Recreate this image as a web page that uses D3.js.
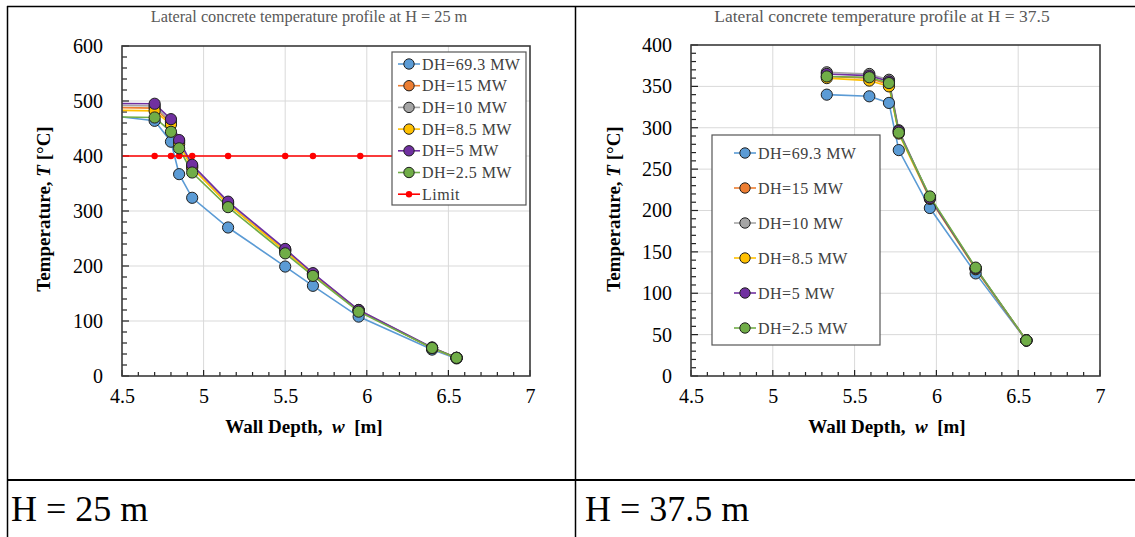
<!DOCTYPE html>
<html><head><meta charset="utf-8">
<script src="https://cdn.jsdelivr.net/npm/d3@7"></script>
<style>
body{margin:0;background:#fff}
svg{display:block}
text{font-family:"Liberation Serif","Times New Roman",serif}
</style>
</head><body>
<svg id="c" width="1135" height="537"></svg>
<script>
// ---------- data ----------
const seriesNames  = ["DH=69.3 MW","DH=15 MW","DH=10 MW","DH=8.5 MW","DH=5 MW","DH=2.5 MW"];
const seriesColors = ["#5B9BD5","#ED7D31","#A5A5A5","#FFC000","#7030A0","#70AD47"];

// H = 25 m
const depth25   = [4.3, 4.7, 4.8, 4.85, 4.93, 5.15, 5.5, 5.67, 5.95, 6.4, 6.55];
const t25_693   = [478, 464, 426, 367, 324, 270, 199, 164, 108, 48, 32];
const t25_15    = [489, 487, 460, 424, 380, 313, 228, 185, 119, 51, 33];
const t25_10    = [493, 491, 463, 427, 382, 315, 230, 186, 120, 51, 33];
const t25_85    = [484, 482, 457, 421, 378, 312, 227, 184, 119, 51, 33];
const t25_5     = [496, 495, 467, 429, 384, 317, 231, 187, 120, 52, 33];
const t25_25    = [472, 470, 444, 414, 370, 307, 223, 182, 117, 51, 33];
const limitDepth = [4.3, 4.7, 4.8, 4.85, 4.93, 5.15, 5.5, 5.67, 5.96, 6.4, 6.55];
const limitTemp  = [400, 400, 400, 400, 400, 400, 400, 400, 400, 400, 400];

// H = 37.5 m
const depth375  = [5.33, 5.59, 5.71, 5.77, 5.96, 6.24, 6.55];
const t375_693  = [340, 338, 330, 273, 203, 124, 43];
const t375_15   = [362, 360, 352, 295, 216, 130, 43];
const t375_10   = [367, 365, 358, 297, 216, 130, 43];
const t375_85   = [360, 357, 350, 293, 214, 129, 43];
const t375_5    = [365, 363, 356, 296, 215, 130, 43];
const t375_25   = [362, 361, 354, 294, 217, 131, 43];

const xTicks    = [4.5, 5, 5.5, 6, 6.5, 7];
const yTicks25  = [0, 100, 200, 300, 400, 500, 600];
const yTicks375 = [0, 50, 100, 150, 200, 250, 300, 350, 400];

const title25  = "Lateral concrete temperature profile at H = 25 m";
const title375 = "Lateral concrete temperature profile at H = 37.5";
const caption25  = "H = 25 m";
const caption375 = "H = 37.5 m";

// ---------- drawing ----------
const svg = d3.select("#c");
const NB = "\u00a0";

function drawChart(cfg){
  const g = svg.append("g");
  const x = d3.scaleLinear().domain([4.5, 7]).range([cfg.x0, cfg.x1]);
  const y = d3.scaleLinear().domain([0, cfg.yMax]).range([cfg.y1, cfg.y0]);
  const clipId = "clip" + cfg.id;
  svg.append("clipPath").attr("id", clipId).append("rect")
    .attr("x", cfg.x0).attr("y", cfg.y0).attr("width", cfg.x1 - cfg.x0).attr("height", cfg.y1 - cfg.y0);

  // gridlines
  g.selectAll(".gx").data(xTicks.slice(1, -1)).join("line")
    .attr("x1", d => x(d)).attr("x2", d => x(d)).attr("y1", cfg.y0).attr("y2", cfg.y1)
    .attr("stroke", "#d9d9d9").attr("stroke-width", 1);
  g.selectAll(".gy").data(cfg.yTicks.slice(1, -1)).join("line")
    .attr("x1", cfg.x0).attr("x2", cfg.x1).attr("y1", d => y(d)).attr("y2", d => y(d))
    .attr("stroke", "#d9d9d9").attr("stroke-width", 1);

  // minor + major ticks (inward)
  const xMinor = d3.range(45, 71).map(v => v / 10);
  g.selectAll(".tx").data(xMinor).join("line")
    .attr("x1", d => x(d)).attr("x2", d => x(d))
    .attr("y1", cfg.y1).attr("y2", (d, i) => cfg.y1 - (i % 5 === 0 ? 6 : 4))
    .attr("stroke", "#222").attr("stroke-width", 1.2);
  const yMinor = d3.range(0, cfg.yMax + 0.001, cfg.yMinorStep);
  const majorStep = cfg.yTicks[1] - cfg.yTicks[0];
  g.selectAll(".ty").data(yMinor).join("line")
    .attr("x1", cfg.x0).attr("x2", d => cfg.x0 + (Math.abs(d / majorStep - Math.round(d / majorStep)) < 1e-6 ? 7 : 5))
    .attr("y1", d => y(d)).attr("y2", d => y(d))
    .attr("stroke", "#222").attr("stroke-width", 1.2);

  // tick labels via d3 axes (no tick lines)
  const ax = g.append("g").attr("transform", `translate(0,${cfg.y1})`)
    .call(d3.axisBottom(x).tickValues(xTicks).tickSize(0).tickPadding(13).tickFormat(d3.format("")));
  const ay = g.append("g").attr("transform", `translate(${cfg.x0},0)`)
    .call(d3.axisLeft(y).tickValues(cfg.yTicks).tickSize(0).tickPadding(19).tickFormat(d3.format("")));
  [ax, ay].forEach(a => {
    a.select(".domain").remove();
    a.attr("font-family", null);
    a.selectAll("text").attr("font-family", "'Liberation Serif','Times New Roman',serif")
      .attr("font-size", 20).attr("fill", "#000");
  });

  // series
  const data = g.append("g").attr("clip-path", `url(#${clipId})`);
  const line = d3.line().x(d => x(d[0])).y(d => y(d[1]));
  cfg.series.forEach((vals, si) => {
    const pts = cfg.depth.map((d, i) => [d, vals[i]]);
    data.append("path").datum(pts).attr("d", line)
      .attr("fill", "none").attr("stroke", seriesColors[si]).attr("stroke-width", 1.6);
  });
  if (cfg.limit) {
    const pts = cfg.limit.depth.map((d, i) => [d, cfg.limit.temp[i]]);
    data.append("path").datum(pts).attr("d", line)
      .attr("fill", "none").attr("stroke", "#FF0000").attr("stroke-width", 1.6);
    data.selectAll(".lim").data(pts).join("circle")
      .attr("cx", d => x(d[0])).attr("cy", d => y(d[1])).attr("r", 3.2).attr("fill", "#FF0000");
  }
  cfg.series.forEach((vals, si) => {
    const pts = cfg.depth.map((d, i) => [d, vals[i]]).filter(p => p[0] > 4.5);
    data.selectAll(null).data(pts).join("circle")
      .attr("cx", d => x(d[0])).attr("cy", d => y(d[1])).attr("r", 5.6)
      .attr("fill", seriesColors[si]).attr("stroke", "#1f1f1f").attr("stroke-width", 1);
  });

  // frame
  g.append("rect").attr("x", cfg.x0).attr("y", cfg.y0)
    .attr("width", cfg.x1 - cfg.x0).attr("height", cfg.y1 - cfg.y0)
    .attr("fill", "none").attr("stroke", "#3a3a3a").attr("stroke-width", 1.6);

  // titles
  g.append("text").attr("x", cfg.titleX).attr("y", 22).attr("text-anchor", "middle")
    .attr("font-size", cfg.titleSize).attr("fill", "#595959").text(cfg.title);
  const xt = g.append("text").attr("x", cfg.xTitleX).attr("y", 433)
    .attr("text-anchor", "middle").attr("font-size", 19).attr("font-weight", "bold").attr("fill", "#000");
  xt.append("tspan").text("Wall Depth," + NB + NB);
  xt.append("tspan").attr("font-style", "italic").text("w");
  xt.append("tspan").text(NB + NB + "[m]");
  const yt = g.append("text").attr("transform", `translate(${cfg.yTitleX},${cfg.yTitleY}) rotate(-90)`)
    .attr("text-anchor", "middle").attr("font-size", 19).attr("font-weight", "bold").attr("fill", "#000");
  yt.append("tspan").text("Temperature, ");
  yt.append("tspan").attr("font-style", "italic").text("T");
  yt.append("tspan").text(" [°C]");

  // legend
  const L = cfg.legend;
  const lg = g.append("g");
  lg.append("rect").attr("x", L.x).attr("y", L.y).attr("width", L.w).attr("height", L.h)
    .attr("fill", "#fff").attr("stroke", "#555").attr("stroke-width", 1.2);
  const entries = seriesNames.map((n, i) => ({name: n, color: seriesColors[i], limit: false}));
  if (cfg.limit) entries.push({name: "Limit", color: "#FF0000", limit: true});
  entries.forEach((e, i) => {
    const cy = L.first + i * L.step;
    lg.append("line").attr("x1", L.mx - 11).attr("x2", L.mx + 11).attr("y1", cy).attr("y2", cy)
      .attr("stroke", e.color).attr("stroke-width", 1.6);
    lg.append("circle").attr("cx", L.mx).attr("cy", cy).attr("r", e.limit ? 3.2 : 5.2)
      .attr("fill", e.color).attr("stroke", e.limit ? "none" : "#1f1f1f").attr("stroke-width", 1);
    lg.append("text").attr("x", L.mx + 13).attr("y", cy + 5.5).attr("font-size", 16)
      .attr("fill", "#404040").attr("letter-spacing", 0.5).text(e.name);
  });
}

drawChart({
  id: "a", x0: 122, x1: 530, y0: 46, y1: 376, yMax: 600, yTicks: yTicks25, yMinorStep: 20,
  depth: depth25, series: [t25_693, t25_15, t25_10, t25_85, t25_5, t25_25],
  limit: {depth: limitDepth, temp: limitTemp},
  title: title25, titleX: 309, titleSize: 16.3, yTitleX: 50, yTitleY: 209, xTitleX: 304,
  legend: {x: 392, y: 52, w: 134, h: 153, first: 64, step: 21.7, mx: 409}
});
drawChart({
  id: "b", x0: 691, x1: 1100, y0: 45, y1: 376, yMax: 400, yTicks: yTicks375, yMinorStep: 10,
  depth: depth375, series: [t375_693, t375_15, t375_10, t375_85, t375_5, t375_25],
  limit: null,
  title: title375, titleX: 882, titleSize: 17.5, yTitleX: 620, yTitleY: 209, xTitleX: 887,
  legend: {x: 712, y: 135, w: 168, h: 210, first: 153, step: 35, mx: 745}
});

// table borders
const tbl = svg.append("g").attr("stroke", "#000");
tbl.append("line").attr("x1", 7).attr("x2", 1135).attr("y1", 6.5).attr("y2", 6.5).attr("stroke-width", 1.5);
tbl.append("line").attr("x1", 7.5).attr("x2", 7.5).attr("y1", 6).attr("y2", 537).attr("stroke-width", 1.5);
tbl.append("line").attr("x1", 575.5).attr("x2", 575.5).attr("y1", 6).attr("y2", 537).attr("stroke-width", 1.5);
tbl.append("line").attr("x1", 7).attr("x2", 1135).attr("y1", 480).attr("y2", 480).attr("stroke-width", 2);

svg.append("text").attr("x", 11).attr("y", 521).attr("font-size", 36).attr("fill", "#000").text(caption25);
svg.append("text").attr("x", 585).attr("y", 521).attr("font-size", 36).attr("fill", "#000").text(caption375);
</script>
</body></html>
